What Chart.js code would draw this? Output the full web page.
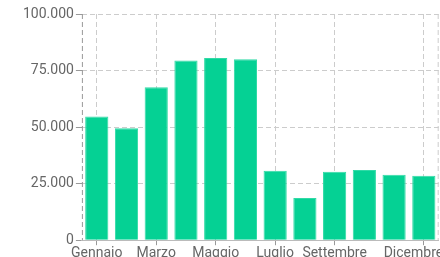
<!DOCTYPE html>
<html>
<head>
<meta charset="utf-8">
<script src="https://cdn.jsdelivr.net/npm/chart.js@4"></script>
<style>
  html, body { margin: 0; padding: 0; background: #fff; overflow: hidden; }
  #wrap { width: 464px; height: 262px; position: relative; }
</style>
</head>
<body>
<div id="wrap"><canvas id="chart"></canvas></div>
<script>
const months = ['Gennaio', 'Febbraio', 'Marzo', 'Aprile', 'Maggio', 'Giugno',
  'Luglio', 'Agosto', 'Settembre', 'Ottobre', 'Novembre', 'Dicembre'];
const sales = [54700, 49500, 67650, 79400, 80600, 80000, 30700, 18650, 30250, 31000, 28900, 28500];
const shownMonths = ['Gennaio', 'Marzo', 'Maggio', 'Luglio', 'Settembre', 'Dicembre'];
const yTicks = [0, 25000, 50000, 75000, 100000];

const isShown = i => shownMonths.includes(months[i]);
const fmt = v => String(v).replace(/\B(?=(\d{3})+(?!\d))/g, '.');
// last label is pulled left so it stays mostly inside the view
const tickText = i => {
  if (!isShown(i)) return '';
  return i === months.length - 1 ? months[i] + '      ' : months[i];
};

// dashed frame lines on left and right of the plot area
const frameLines = {
  id: 'frameLines',
  beforeDatasetsDraw(chart) {
    const { ctx, chartArea: a } = chart;
    ctx.save();
    ctx.setLineDash([5, 3]);
    ctx.lineWidth = 1;
    ctx.strokeStyle = '#999';
    ctx.beginPath();
    ctx.moveTo(a.left + 0.5, a.top);
    ctx.lineTo(a.left + 0.5, a.bottom);
    ctx.stroke();
    ctx.strokeStyle = '#ccc';
    ctx.beginPath();
    ctx.moveTo(a.right - 0.5, a.top);
    ctx.lineTo(a.right - 0.5, a.bottom);
    ctx.stroke();
    ctx.restore();
  }
};

const font = { family: 'Roboto', size: 14 };

new Chart(document.getElementById('chart'), {
  type: 'bar',
  data: {
    labels: months,
    datasets: [{
      data: sales,
      backgroundColor: '#05d194',
      borderColor: '#30daa6',
      borderWidth: 1,
      barPercentage: 0.78,
      categoryPercentage: 1
    }]
  },
  options: {
    animation: false,
    responsive: true,
    maintainAspectRatio: false,
    layout: { padding: { top: 14, left: 21, right: 0, bottom: 0 } },
    plugins: { legend: { display: false }, tooltip: { enabled: false } },
    scales: {
      x: {
        grid: {
          offset: false,
          color: c => isShown(c.index) ? '#ccc' : 'rgba(0,0,0,0)',
          tickColor: c => isShown(c.index) ? '#999' : 'rgba(0,0,0,0)',
          tickLength: 5
        },
        border: { color: '#bbb', dash: [5, 3] },
        ticks: {
          autoSkip: false,
          maxRotation: 0,
          padding: 0,
          color: '#666',
          font: font,
          callback: (v, i) => tickText(i)
        }
      },
      y: {
        min: 0,
        max: 100000,
        afterBuildTicks: axis => { axis.ticks = yTicks.map(v => ({ value: v })); },
        grid: { color: '#ccc', tickColor: '#999', tickLength: 6 },
        border: { display: false, dash: [5, 3] },
        ticks: {
          padding: 2,
          color: '#666',
          font: font,
          callback: v => fmt(v)
        }
      }
    }
  },
  plugins: [frameLines]
});
</script>
</body>
</html>
